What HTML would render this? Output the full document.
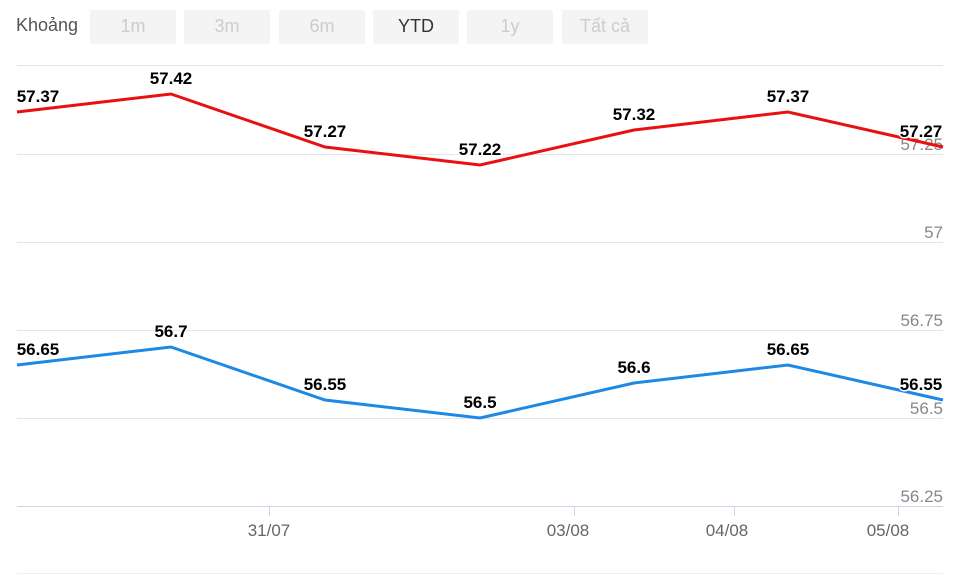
<!DOCTYPE html>
<html><head><meta charset="utf-8"><style>
body{margin:0;width:960px;height:576px;background:#fff;overflow:hidden;font-family:"Liberation Sans","Noto Sans CJK SC",sans-serif;position:relative}
.lbl{position:absolute;left:16px;top:15px;font-size:18px;color:#555}
.b{position:absolute;top:10px;width:86px;height:34px;background:#f4f4f4;border-radius:2px;color:#ccc;font-size:18px;text-align:center;line-height:33px}
</style></head><body>
<div class="lbl">Khoảng</div>
<div class="b" style="left:90px">1m</div>
<div class="b" style="left:184px">3m</div>
<div class="b" style="left:279px">6m</div>
<div class="b" style="left:373px;color:#333">YTD</div>
<div class="b" style="left:467px">1y</div>
<div class="b" style="left:562px">Tất cả</div>
<svg width="960" height="576" style="position:absolute;left:0;top:0" font-family="Liberation Sans, sans-serif">
<g stroke="#e6e6e6" stroke-width="1">
<line x1="17" x2="943" y1="65.5" y2="65.5"/>
<line x1="17" x2="943" y1="154.5" y2="154.5"/>
<line x1="17" x2="943" y1="242.5" y2="242.5"/>
<line x1="17" x2="943" y1="330.5" y2="330.5"/>
<line x1="17" x2="943" y1="418.5" y2="418.5"/>
<line x1="17" x2="943" y1="573.5" y2="573.5" stroke="#f0f0f0"/>
</g>
<line x1="17" x2="943" y1="506.5" y2="506.5" stroke="#ccd6eb"/>
<g stroke="#ccd6eb"><line x1="269.5" x2="269.5" y1="506" y2="516"/><line x1="574.5" x2="574.5" y1="506" y2="516"/><line x1="734.5" x2="734.5" y1="506" y2="516"/><line x1="898.5" x2="898.5" y1="506" y2="516"/></g>
<g fill="#666" font-size="17" text-anchor="middle"><text x="269" y="536">31/07</text><text x="568" y="536">03/08</text><text x="727" y="536">04/08</text><text x="888" y="536">05/08</text></g>
<g fill="#888" font-size="17" text-anchor="end"><text x="943" y="150">57.25</text><text x="943" y="238">57</text><text x="943" y="326">56.75</text><text x="943" y="414">56.5</text><text x="943" y="502">56.25</text></g>
<polyline fill="none" stroke="#e81010" stroke-width="3" points="17,112 171,94 325,147 480,165 634,130 788,112 943,147"/>
<polyline fill="none" stroke="#1e88e5" stroke-width="3" points="17,365 171,347 325,400 480,418 634,383 788,365 943,400"/>
<g fill="#000" font-size="17" font-weight="bold" text-anchor="middle" stroke="#fff" stroke-width="3" paint-order="stroke">
<text x="38" y="102">57.37</text><text x="171" y="84">57.42</text><text x="325" y="137">57.27</text><text x="480" y="155">57.22</text><text x="634" y="120">57.32</text><text x="788" y="102">57.37</text><text x="921" y="137">57.27</text>
<text x="38" y="355">56.65</text><text x="171" y="337">56.7</text><text x="325" y="390">56.55</text><text x="480" y="408">56.5</text><text x="634" y="373">56.6</text><text x="788" y="355">56.65</text><text x="921" y="390">56.55</text>
</g>
</svg>
</body></html>
